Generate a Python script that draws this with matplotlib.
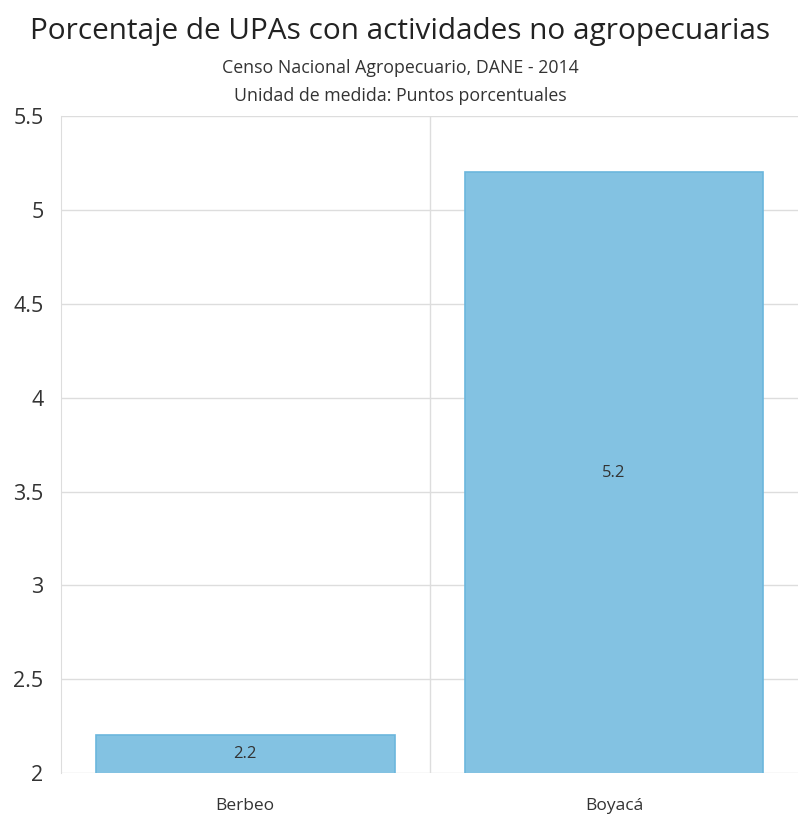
import matplotlib.pyplot as plt

categories = ["Berbeo", "Boyacá"]
values = [2.2, 5.2]
yticks = [2, 2.5, 3, 3.5, 4, 4.5, 5, 5.5]
ytick_labels = ["2", "2.5", "3", "3.5", "4", "4.5", "5", "5.5"]

plt.rcParams['font.family'] = ['Open Sans', 'DejaVu Sans']

fig = plt.figure(figsize=(8, 8.18), dpi=100)
ax = fig.add_axes([0.076, 0.055, 0.922, 0.803])

x = list(range(len(categories)))
bars = ax.bar(x, values, width=0.81, bottom=0, color='#83c2e2',
              edgecolor='#6bb6dd', linewidth=1.2, zorder=3)

for xi, v in zip(x, values):
    ax.text(xi, (2 + v) / 2, f"{v:g}", ha='center', va='center',
            fontsize=12, color='#333333', zorder=4)

ax.set_xlim(-0.5, 1.5)
ax.set_ylim(2, 5.5)
ax.set_yticks(yticks)
ax.set_yticklabels(ytick_labels, fontsize=15.5, color='#333333')
ax.set_xticks(x)
ax.set_xticklabels(categories, fontsize=12.5, color='#333333')
ax.tick_params(length=0)
ax.tick_params(axis='y', pad=12.5)
ax.tick_params(axis='x', pad=18)

ax.grid(axis='y', color='#dddddd', linewidth=1, zorder=0)
ax.axvline(0.5, color='#dddddd', linewidth=1, zorder=0)
for side in ['top', 'right', 'bottom']:
    ax.spines[side].set_visible(False)
ax.spines['left'].set_color('#dddddd')

fig.text(0.5, 0.962, "Porcentaje de UPAs con actividades no agropecuarias",
         ha='center', va='center', fontsize=21.4, color='#222222')
fig.text(0.5, 0.917, "Censo Nacional Agropecuario, DANE - 2014",
         ha='center', va='center', fontsize=12.8, color='#333333')
fig.text(0.5, 0.883, "Unidad de medida: Puntos porcentuales",
         ha='center', va='center', fontsize=12.8, color='#333333')

fig.savefig('out.png', dpi=100)
